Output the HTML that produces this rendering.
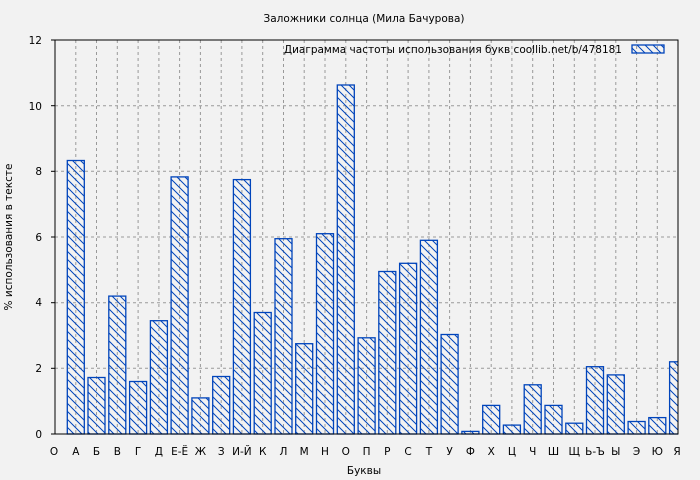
<!DOCTYPE html>
<html><head><meta charset="utf-8"><style>body{margin:0;background:#f2f2f2}svg{display:block}text{font-family:"DejaVu Sans","Liberation Sans",sans-serif;font-size:10.5px;fill:#000}</style></head><body>
<svg width="700" height="480" viewBox="0 0 700 480">
<defs>
<pattern id="h" patternUnits="userSpaceOnUse" width="8" height="8"><path d="M-2,-2 L10,10 M-2,6 L2,10 M6,-2 L10,2" stroke="#0044bb" stroke-width="1"/></pattern>
<clipPath id="c"><rect x="55" y="40" width="623" height="395"/></clipPath>
</defs>
<rect width="700" height="480" fill="#f2f2f2"/>
<g stroke="#999" stroke-dasharray="3,3" stroke-width="1">
<line x1="55" x2="678" y1="368.3" y2="368.3"/><line x1="55" x2="678" y1="302.7" y2="302.7"/><line x1="55" x2="678" y1="237" y2="237"/><line x1="55" x2="678" y1="171.3" y2="171.3"/><line x1="55" x2="678" y1="105.7" y2="105.7"/>
<line x1="75.8" x2="75.8" y1="40" y2="434"/><line x1="96.5" x2="96.5" y1="40" y2="434"/><line x1="117.3" x2="117.3" y1="40" y2="434"/><line x1="138.1" x2="138.1" y1="40" y2="434"/><line x1="158.9" x2="158.9" y1="40" y2="434"/><line x1="179.6" x2="179.6" y1="40" y2="434"/><line x1="200.4" x2="200.4" y1="40" y2="434"/><line x1="221.2" x2="221.2" y1="40" y2="434"/><line x1="241.9" x2="241.9" y1="40" y2="434"/><line x1="262.7" x2="262.7" y1="40" y2="434"/><line x1="283.5" x2="283.5" y1="40" y2="434"/><line x1="304.2" x2="304.2" y1="40" y2="434"/><line x1="325" x2="325" y1="40" y2="434"/><line x1="345.8" x2="345.8" y1="40" y2="434"/><line x1="366.6" x2="366.6" y1="40" y2="434"/><line x1="387.3" x2="387.3" y1="40" y2="434"/><line x1="408.1" x2="408.1" y1="40" y2="434"/><line x1="428.9" x2="428.9" y1="40" y2="434"/><line x1="449.6" x2="449.6" y1="40" y2="434"/><line x1="470.4" x2="470.4" y1="40" y2="434"/><line x1="491.2" x2="491.2" y1="40" y2="434"/><line x1="511.9" x2="511.9" y1="40" y2="434"/><line x1="532.7" x2="532.7" y1="40" y2="434"/><line x1="553.5" x2="553.5" y1="40" y2="434"/><line x1="574.3" x2="574.3" y1="40" y2="434"/><line x1="595" x2="595" y1="40" y2="434"/><line x1="615.8" x2="615.8" y1="40" y2="434"/><line x1="636.6" x2="636.6" y1="40" y2="434"/><line x1="657.3" x2="657.3" y1="40" y2="434"/>
</g>
<g fill="url(#h)" stroke="#0044bb" stroke-width="1.3" clip-path="url(#c)">
<rect x="67.3" y="160.5" width="17" height="273.5"/>
<rect x="88" y="377.5" width="17" height="56.5"/>
<rect x="108.8" y="296.1" width="17" height="137.9"/>
<rect x="129.6" y="381.5" width="17" height="52.5"/>
<rect x="150.4" y="320.7" width="17" height="113.3"/>
<rect x="171.1" y="176.9" width="17" height="257.1"/>
<rect x="191.9" y="397.9" width="17" height="36.1"/>
<rect x="212.7" y="376.5" width="17" height="57.5"/>
<rect x="233.4" y="179.6" width="17" height="254.4"/>
<rect x="254.2" y="312.5" width="17" height="121.5"/>
<rect x="275" y="238.7" width="17" height="195.3"/>
<rect x="295.7" y="343.7" width="17" height="90.3"/>
<rect x="316.5" y="233.7" width="17" height="200.3"/>
<rect x="337.3" y="85" width="17" height="349"/>
<rect x="358.1" y="337.8" width="17" height="96.2"/>
<rect x="378.8" y="271.5" width="17" height="162.5"/>
<rect x="399.6" y="263.3" width="17" height="170.7"/>
<rect x="420.4" y="240.3" width="17" height="193.7"/>
<rect x="441.1" y="334.5" width="17" height="99.5"/>
<rect x="461.9" y="431.4" width="17" height="2.6"/>
<rect x="482.7" y="405.4" width="17" height="28.6"/>
<rect x="503.4" y="425.1" width="17" height="8.9"/>
<rect x="524.2" y="384.8" width="17" height="49.2"/>
<rect x="545" y="405.4" width="17" height="28.6"/>
<rect x="565.8" y="423.2" width="17" height="10.8"/>
<rect x="586.5" y="366.7" width="17" height="67.3"/>
<rect x="607.3" y="374.9" width="17" height="59.1"/>
<rect x="628.1" y="421.5" width="17" height="12.5"/>
<rect x="648.8" y="417.6" width="17" height="16.4"/>
<rect x="669.6" y="361.8" width="17" height="72.2"/>
</g>
<rect x="55" y="40" width="623" height="394" fill="none" stroke="#000" stroke-width="1"/>
<g stroke="#000">
<line x1="51" x2="55" y1="434" y2="434"/><line x1="51" x2="55" y1="368.3" y2="368.3"/><line x1="51" x2="55" y1="302.7" y2="302.7"/><line x1="51" x2="55" y1="237" y2="237"/><line x1="51" x2="55" y1="171.3" y2="171.3"/><line x1="51" x2="55" y1="105.7" y2="105.7"/><line x1="51" x2="55" y1="40" y2="40"/>
</g>
<g text-anchor="end">
<text x="42" y="438">0</text><text x="42" y="372">2</text><text x="42" y="306">4</text><text x="42" y="241">6</text><text x="42" y="175">8</text><text x="42" y="110">10</text><text x="42" y="44">12</text>
</g>
<g text-anchor="middle">
<text x="54" y="455">О</text><text x="75.8" y="455">А</text><text x="96.5" y="455">Б</text><text x="117.3" y="455">В</text><text x="138.1" y="455">Г</text><text x="158.9" y="455">Д</text><text x="179.6" y="455">Е-Ё</text><text x="200.4" y="455">Ж</text><text x="221.2" y="455">З</text><text x="241.9" y="455">И-Й</text><text x="262.7" y="455">К</text><text x="283.5" y="455">Л</text><text x="304.2" y="455">М</text><text x="325" y="455">Н</text><text x="345.8" y="455">О</text><text x="366.6" y="455">П</text><text x="387.3" y="455">Р</text><text x="408.1" y="455">С</text><text x="428.9" y="455">Т</text><text x="449.6" y="455">У</text><text x="470.4" y="455">Ф</text><text x="491.2" y="455">Х</text><text x="511.9" y="455">Ц</text><text x="532.7" y="455">Ч</text><text x="553.5" y="455">Ш</text><text x="574.3" y="455">Щ</text><text x="595" y="455">Ь-Ъ</text><text x="615.8" y="455">Ы</text><text x="636.6" y="455">Э</text><text x="657.3" y="455">Ю</text><text x="677" y="455">Я</text>
<text x="364" y="474">Буквы</text>
<text x="364" y="22">Заложники солнца (Мила Бачурова)</text>
<text transform="translate(12,237) rotate(-90)">% использования в тексте</text>
</g>
<text x="622" y="53" text-anchor="end">Диаграмма частоты использования букв  coollib.net/b/478181</text>
<rect x="632" y="45" width="32" height="8" fill="url(#h)" stroke="#0044bb" stroke-width="1.3"/>
</svg>
</body></html>
